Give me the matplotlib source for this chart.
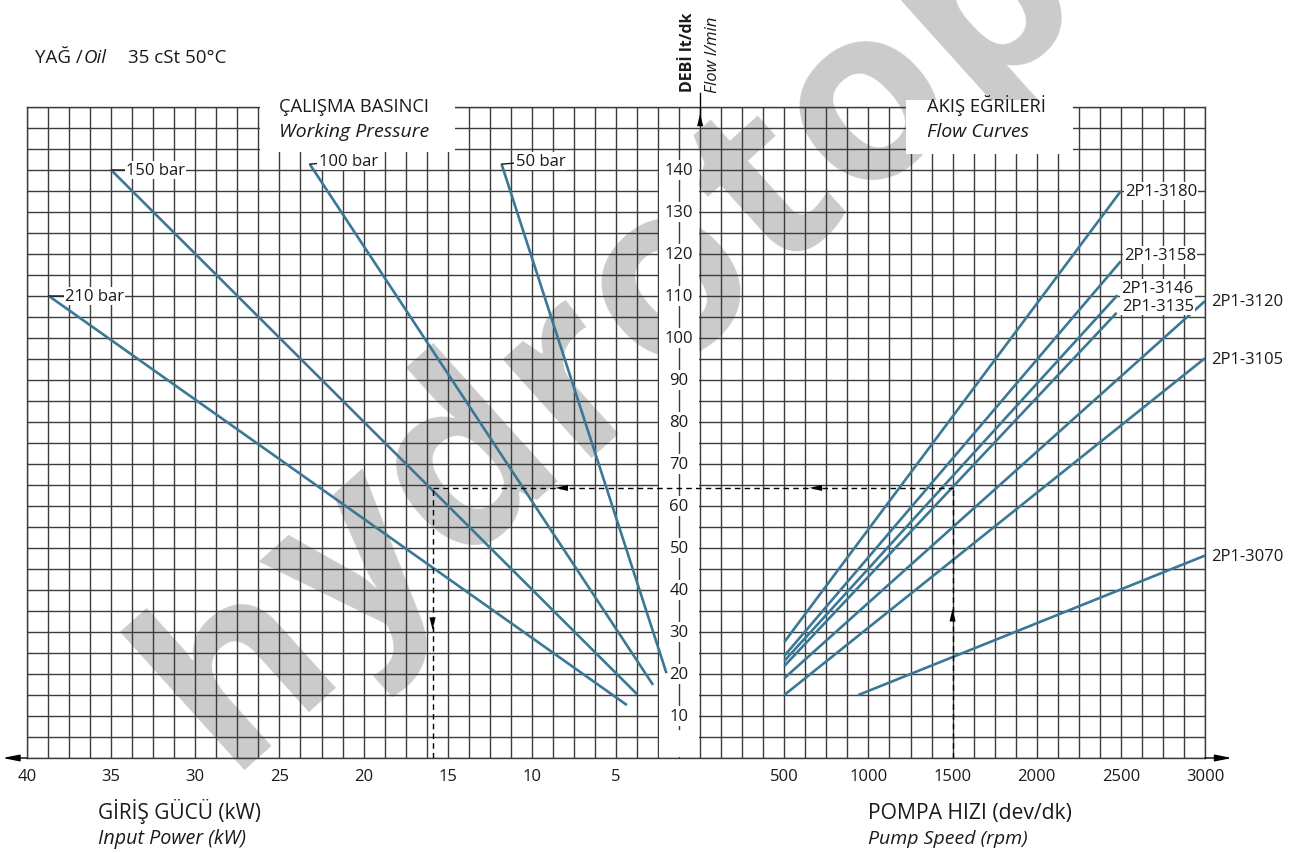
import numpy as np
import matplotlib
matplotlib.use("Agg")
import matplotlib.pyplot as plt
from matplotlib.patches import Rectangle

plt.rcParams['font.family'] = ['Open Sans', 'DejaVu Sans']

# ---------------- data ----------------
power_ticks = [40, 35, 30, 25, 20, 15, 10, 5]              # kW (left scale)
speed_ticks = [500, 1000, 1500, 2000, 2500, 3000]          # rpm (right scale)
flow_ticks = [10, 20, 30, 40, 50, 60, 70, 80, 90, 100, 110, 120, 130, 140]

pressure_labels = ['210 bar', '150 bar', '100 bar', '50 bar']
pressure_start_kw = [38.7, 35.0, 23.2, 11.8]
pressure_start_flow = [110.0, 140.0, 141.4, 141.4]
pressure_end_kw = [4.35, 3.75, 2.8, 2.0]
pressure_end_flow = [12.6, 15.2, 17.4, 20.2]

pump_labels = ['2P1-3180', '2P1-3158', '2P1-3146', '2P1-3135',
               '2P1-3120', '2P1-3105', '2P1-3070']
pump_start_rpm = [500, 500, 500, 500, 500, 500, 940]
pump_start_flow = [27.6, 24.3, 23.1, 21.9, 19.0, 15.0, 15.0]
pump_end_rpm = [2500, 2500, 2480, 2475, 3000, 3000, 3000]
pump_end_flow = [135.0, 118.3, 110.2, 106.0, 108.8, 95.2, 48.2]

guide_rpm = 1500
guide_flow = 64.3
guide_kw = 15.9

watermark = 'hydrotop'

# ---------------- helpers ----------------
W, H = 1298, 854
def fx(x):
    return x / W
def fy(y):
    return 1 - y / H

def kw_x(kw):
    return -np.asarray(kw, dtype=float)          # power plotted leftwards
def rpm_x(rpm):
    return np.asarray(rpm, dtype=float) / 100.0  # 500 rpm == 5 kW grid units

LINE = '#3a7896'
GRID = '#3c3c3c'
TXT = '#1a1a1a'
FS = 12

fig = plt.figure(figsize=(W / 100, H / 100), dpi=100)
renderer = fig.canvas.get_renderer()
ax = fig.add_axes([fx(27), fy(759), (1205 - 27) / W, 651 / H])
ax.set_xlim(-40, 30)
ax.set_ylim(0, 155)

# grid
ax.set_axisbelow(True)
ax.set_xticks(np.arange(-40, 30.001, 1.25), minor=True)
ax.set_yticks(np.arange(0, 155.01, 5), minor=True)
major_pos = list(kw_x(power_ticks)) + list(rpm_x(speed_ticks))
major_lab = [str(p) for p in power_ticks] + [str(s) for s in speed_ticks]
ax.set_xticks(major_pos, major_lab)
ax.set_yticks(np.arange(0, 155.01, 5))
ax.set_yticklabels([])
ax.grid(which='both', color=GRID, lw=1.0)
ax.tick_params(which='both', length=0)
ax.tick_params(axis='x', pad=7, labelsize=FS, labelcolor=TXT)
for s in ax.spines.values():
    s.set_color(GRID)
    s.set_linewidth(1.0)

# watermark (below the grid), letters laid out along a rotated baseline
ang = np.deg2rad(42)
wm_fs = 176
track = 4
bx, by = 226.0, 770.0          # baseline start, figure pixels from top-left
for ch in watermark:
    ax.text(fx(bx), fy(by), ch, transform=fig.transFigure,
            rotation=np.rad2deg(ang), ha='left', va='baseline',
            rotation_mode='anchor', fontsize=wm_fs, fontweight='bold',
            color='#cbcbcb', zorder=0.3, clip_on=False, family='Open Sans')
    probe = fig.text(0, 0, ch, fontsize=wm_fs, fontweight='bold', family='Open Sans')
    adv = probe.get_window_extent(renderer).width
    probe.remove()
    bx += (adv + track) * np.cos(ang)
    by -= (adv + track) * np.sin(ang)

# white masks (text boxes and centre column)
ax.add_patch(Rectangle((-26.15, 144.2), 11.6, 12.5, fc='white', ec='none',
                       zorder=3, clip_on=False))
ax.add_patch(Rectangle((12.25, 143.9), 9.9, 12.8, fc='white', ec='none',
                       zorder=3, clip_on=False))
ax.add_patch(Rectangle((-2.45, 0.15), 2.4, 144.3, fc='white', ec='none', zorder=3))
ax.axvline(-1.25, ymin=7 / 155, ymax=145 / 155, color=GRID, lw=1.0, zorder=3.5)

# centre flow labels
for v in flow_ticks:
    ax.text(-1.25, v, str(v), ha='center', va='center', fontsize=FS, color=TXT,
            zorder=5, bbox=dict(fc='white', ec='none', pad=1.5))

# pressure lines (left)
offs_p = [(16, 0), (15, 0), (9, 3), (14, 3)]
for i, lab in enumerate(pressure_labels):
    xs = kw_x([pressure_start_kw[i], pressure_end_kw[i]])
    ys = [pressure_start_flow[i], pressure_end_flow[i]]
    ax.plot(xs, ys, color=LINE, lw=1.9, zorder=6, solid_capstyle='butt')
    ax.annotate(lab, xy=(xs[0], ys[0]), xytext=offs_p[i], textcoords='offset pixels',
                ha='left', va='center', fontsize=FS, color=TXT, zorder=7,
                bbox=dict(fc='white', ec='none', pad=1.0),
                arrowprops=dict(arrowstyle='-', color=TXT, lw=1.0,
                                shrinkA=0, shrinkB=0))

# pump flow lines (right)
offs_r = [(4, 0), (3, 6), (4, 7), (5, 7), (6, 0), (6, -1), (6, 0)]
for i, lab in enumerate(pump_labels):
    xs = rpm_x([pump_start_rpm[i], pump_end_rpm[i]])
    ys = [pump_start_flow[i], pump_end_flow[i]]
    ax.plot(xs, ys, color=LINE, lw=1.9, zorder=6, solid_capstyle='butt')
    ax.annotate(lab, xy=(xs[1], ys[1]), xytext=offs_r[i], textcoords='offset pixels',
                ha='left', va='center', fontsize=FS, color=TXT, zorder=7,
                annotation_clip=False,
                bbox=dict(fc='white', ec='none', pad=1.0))

# example guide (dashed)
gx_l = float(kw_x(guide_kw))
gx_r = float(rpm_x(guide_rpm))
dash = dict(color='black', lw=1.0, ls=(0, (4, 3)), zorder=6.5)
ax.plot([gx_l, gx_r], [guide_flow, guide_flow], **dash)
ax.plot([gx_l, gx_l], [0, guide_flow], **dash)
ax.plot([gx_r, gx_r], [0, guide_flow], **dash)
hp = dict(arrowstyle='-|>,head_length=0.9,head_width=0.22', color='black', lw=0.01,
          shrinkA=0, shrinkB=0)
ax.annotate('', xy=(-8.6, guide_flow), xytext=(-7.8, guide_flow), arrowprops=hp, zorder=7)
ax.annotate('', xy=(6.5, guide_flow), xytext=(7.3, guide_flow), arrowprops=hp, zorder=7)
ax.annotate('', xy=(gx_r, 35.5), xytext=(gx_r, 32.0), arrowprops=hp, zorder=7)
ax.annotate('', xy=(gx_l, 30.5), xytext=(gx_l, 34.0), arrowprops=hp, zorder=7)

# axis arrows
ap = dict(arrowstyle='-|>,head_length=1.0,head_width=0.2', color='black', lw=1.0,
          shrinkA=0, shrinkB=0)
ax.annotate('', xy=(-41.45, 0), xytext=(-40, 0), arrowprops=ap, annotation_clip=False)
ax.annotate('', xy=(31.6, 0), xytext=(30, 0), arrowprops=ap, annotation_clip=False)
ax.plot([0, 0], [151.4, 158.4], color='black', lw=1.0, clip_on=False, zorder=6)
ax.annotate('', xy=(0, 153.4), xytext=(0, 151.4),
            arrowprops=dict(arrowstyle='-|>,head_length=0.9,head_width=0.22',
                            color='black', lw=0.01, shrinkA=0, shrinkB=0),
            annotation_clip=False)

# titles / captions
fig.text(fx(688), fy(92), 'DEBİ lt/dk', rotation=90, ha='center', va='bottom',
         fontsize=11.5, fontweight='bold', color=TXT)
fig.text(fx(713), fy(93), 'Flow l/min', rotation=90, ha='center', va='bottom',
         fontsize=12, style='italic', color=TXT)

t1 = fig.text(fx(35), fy(63), 'YAĞ /', fontsize=13.5, color=TXT, va='baseline')
bb = t1.get_window_extent(renderer)
fig.text(fx(bb.x1 + 1), fy(63), 'Oil', fontsize=13.5, color=TXT, va='baseline',
         style='italic')
fig.text(fx(128), fy(63), '35 cSt 50°C', fontsize=13.5, color=TXT, va='baseline')

fig.text(fx(279), fy(112.5), 'ÇALIŞMA BASINCI', fontsize=13.2, color=TXT, va='baseline')
fig.text(fx(279), fy(137), 'Working Pressure', fontsize=14, color=TXT, va='baseline',
         style='italic')
fig.text(fx(927), fy(112.5), 'AKIŞ EĞRİLERİ', fontsize=13.2, color=TXT, va='baseline')
fig.text(fx(927), fy(137), 'Flow Curves', fontsize=14, color=TXT, va='baseline',
         style='italic')

fig.text(fx(98), fy(819), 'GİRİŞ GÜCÜ (kW)', fontsize=15, color=TXT, va='baseline')
fig.text(fx(98), fy(844), 'Input Power (kW)', fontsize=14.2, color=TXT, va='baseline',
         style='italic')
fig.text(fx(868), fy(819), 'POMPA HIZI (dev/dk)', fontsize=15.2, color=TXT, va='baseline')
fig.text(fx(868), fy(844), 'Pump Speed (rpm)', fontsize=14, color=TXT, va='baseline',
         style='italic')

fig.savefig('out.png', dpi=100)
